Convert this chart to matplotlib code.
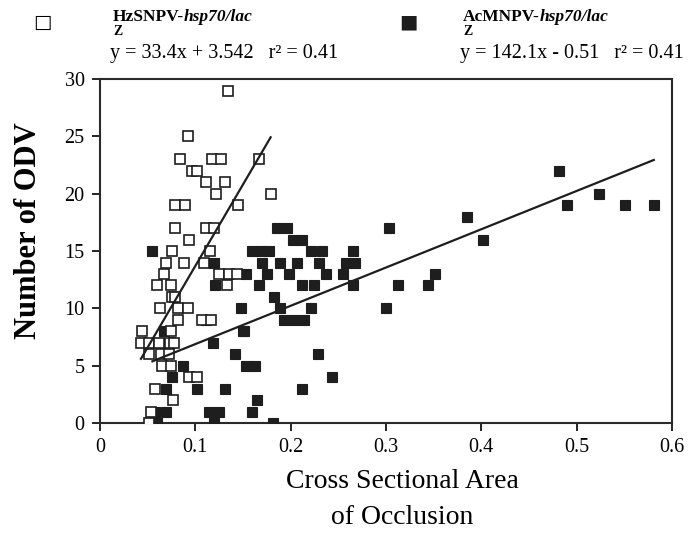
import matplotlib.pyplot as plt
import numpy as np

plt.rcParams['font.family'] = ['Liberation Serif', 'DejaVu Serif']

# HzSNPV-hsp70/lacZ (open squares)
hz_x = [0.134, 0.092, 0.084, 0.117, 0.127, 0.167, 0.096, 0.102, 0.111, 0.131,
        0.122, 0.179, 0.079, 0.089, 0.145, 0.079, 0.111, 0.120, 0.093, 0.076,
        0.115, 0.069, 0.088, 0.109, 0.067, 0.125, 0.135, 0.144, 0.060, 0.075,
        0.133, 0.076, 0.079, 0.063, 0.082, 0.092, 0.082, 0.107, 0.116, 0.044,
        0.074, 0.043, 0.051, 0.062, 0.073, 0.078, 0.051, 0.064, 0.072, 0.065,
        0.074, 0.093, 0.102, 0.058, 0.077, 0.054, 0.051]
hz_y = [29, 25, 23, 23, 23, 23, 22, 22, 21, 21,
        20, 20, 19, 19, 19, 17, 17, 17, 16, 15,
        15, 14, 14, 14, 13, 13, 13, 13, 12, 12,
        12, 11, 11, 10, 10, 10, 9, 9, 9, 8,
        8, 7, 7, 7, 7, 7, 6, 6, 6, 5,
        5, 4, 4, 3, 2, 1, 0]

# AcMNPV-hsp70/lacZ (filled squares)
ac_x = [0.055, 0.120, 0.153, 0.121, 0.148, 0.111, 0.067, 0.151, 0.119, 0.142,
        0.087, 0.153, 0.163, 0.076, 0.069, 0.102, 0.131, 0.165, 0.058, 0.069,
        0.114, 0.125, 0.159, 0.060, 0.120, 0.182, 0.186, 0.196, 0.202, 0.212,
        0.159, 0.169, 0.177, 0.221, 0.233, 0.265, 0.303, 0.170, 0.189, 0.207,
        0.230, 0.258, 0.268, 0.175, 0.198, 0.237, 0.255, 0.167, 0.212, 0.224,
        0.265, 0.313, 0.344, 0.183, 0.189, 0.221, 0.300, 0.193, 0.204, 0.214,
        0.150, 0.229, 0.243, 0.212, 0.482, 0.524, 0.490, 0.551, 0.581, 0.385,
        0.402, 0.351]
ac_y = [15, 14, 13, 12, 10, 9, 8, 8, 7, 6,
        5, 5, 5, 4, 3, 3, 3, 2, 1, 1,
        1, 1, 1, 0, 0, 0, 17, 17, 16, 16,
        15, 15, 15, 15, 15, 15, 17, 14, 14, 14,
        14, 14, 14, 13, 13, 13, 13, 12, 12, 12,
        12, 12, 12, 11, 10, 10, 10, 9, 9, 9,
        8, 6, 4, 3, 22, 20, 19, 19, 19, 18,
        16, 13]

# fitted lines as drawn (slope, intercept, x range)
steep_fit = (142.1, -0.51, 0.043, 0.179)
shallow_fit = (33.4, 3.542, 0.055, 0.581)

fig = plt.figure(figsize=(6.92, 5.42), dpi=100)
ax = fig.add_axes([0.1445, 0.2196, 0.8265, 0.6344])

ax.plot(ac_x, ac_y, 's', ms=7.2, mfc='#1e1e1e', mec='#1e1e1e', mew=0.8, zorder=3)
ax.plot(hz_x, hz_y, 's', ms=7.2, mfc='white', mec='#1e1e1e', mew=1.2, zorder=4)

for m, b, x0, x1 in [steep_fit, shallow_fit]:
    xs = np.array([x0, x1])
    ax.plot(xs, m * xs + b, color='#1e1e1e', lw=1.6, zorder=5)

ax.set_xlim(0, 0.6)
ax.set_ylim(0, 30)
ax.set_xticks([0, 0.1, 0.2, 0.3, 0.4, 0.5, 0.6])
ax.set_xticklabels(['0', '0.1', '0.2', '0.3', '0.4', '0.5', '0.6'])
ax.set_yticks([0, 5, 10, 15, 20, 25, 30])
ax.tick_params(direction='out', length=6, width=1.2, labelsize=14.5, pad=5)
for s in ax.spines.values():
    s.set_linewidth(1.5)
    s.set_color('#2a2a2a')

ax.set_ylabel('Number of ODV', fontsize=22, fontweight='bold')
ax.yaxis.set_label_coords(-0.1, 0.56)
fig.text(402 / 692, 1 - 482 / 542, 'Cross Sectional Area', fontsize=20,
         ha='center', va='center')
fig.text(402 / 692, 1 - 518 / 542, 'of Occlusion', fontsize=20,
         ha='center', va='center')

# header legend
fig.text(42 / 692, 1 - 22 / 542, '\u25a1', fontsize=14, ha='center', va='center',
         family=['DejaVu Sans'])
fig.text(408 / 692, 1 - 22 / 542, '\u25a0', fontsize=14, ha='center', va='center',
         family=['DejaVu Sans'], color='#1e1e1e')

def header(x, name, eq):
    t = fig.text(x / 692, 1 - 21 / 542, name, fontsize=12.5, fontweight='bold',
                 va='baseline')
    fig.canvas.draw()
    bb = t.get_window_extent()
    fig.text(bb.x1 / 692, 1 - 21 / 542, 'hsp70/lac', fontsize=12.5, fontweight='bold',
             style='italic', va='baseline')
    fig.text(x / 692, 1 - 35 / 542, 'Z', fontsize=10, fontweight='bold', va='baseline')
    fig.text(x / 692 - 0.004, 1 - 58 / 542, eq, fontsize=14.5, va='baseline')

header(113, 'HzSNPV-', 'y = 33.4x + 3.542   r\u00b2 = 0.41')
header(463, 'AcMNPV-', 'y = 142.1x - 0.51   r\u00b2 = 0.41')

fig.savefig('out.png', dpi=100)
